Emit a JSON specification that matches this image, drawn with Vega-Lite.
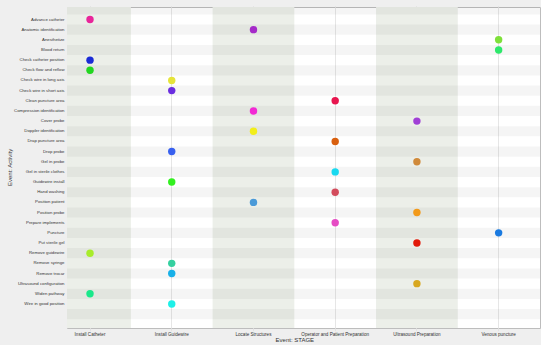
{
  "$schema": "https://vega.github.io/schema/vega-lite/v6.json",
  "autosize": "none",
  "width": 473,
  "height": 321,
  "padding": {"left": 67, "top": 7, "right": 1, "bottom": 17},
  "background": "#efefef",
  "config": {
    "font": "Liberation Sans",
    "view": {"stroke": "#bdbdbd", "strokeWidth": 1, "fill": "white"}
  },
  "datasets": {
    "points": [
      {"Activity": "Advance catheter", "Stage": "Install Catheter"},
      {"Activity": "Anatomic identification", "Stage": "Locate Structures"},
      {"Activity": "Anesthetize", "Stage": "Venous puncture"},
      {"Activity": "Blood return", "Stage": "Venous puncture"},
      {"Activity": "Check catheter position", "Stage": "Install Catheter"},
      {"Activity": "Check flow and reflow", "Stage": "Install Catheter"},
      {"Activity": "Check wire in long axis", "Stage": "Install Guidewire"},
      {"Activity": "Check wire in short axis", "Stage": "Install Guidewire"},
      {"Activity": "Clean puncture area", "Stage": "Operator and Patient Preparation"},
      {"Activity": "Compression identification", "Stage": "Locate Structures"},
      {"Activity": "Cover probe", "Stage": "Ultrasound Preparation"},
      {"Activity": "Doppler identification", "Stage": "Locate Structures"},
      {"Activity": "Drap puncture area", "Stage": "Operator and Patient Preparation"},
      {"Activity": "Drop probe", "Stage": "Install Guidewire"},
      {"Activity": "Gel in probe", "Stage": "Ultrasound Preparation"},
      {"Activity": "Gel in sterile clothes", "Stage": "Operator and Patient Preparation"},
      {"Activity": "Guidewire install", "Stage": "Install Guidewire"},
      {"Activity": "Hand washing", "Stage": "Operator and Patient Preparation"},
      {"Activity": "Position patient", "Stage": "Locate Structures"},
      {"Activity": "Position probe", "Stage": "Ultrasound Preparation"},
      {"Activity": "Prepare implements", "Stage": "Operator and Patient Preparation"},
      {"Activity": "Puncture", "Stage": "Venous puncture"},
      {"Activity": "Put sterile gel", "Stage": "Ultrasound Preparation"},
      {"Activity": "Remove guidewire", "Stage": "Install Catheter"},
      {"Activity": "Remove syringe", "Stage": "Install Guidewire"},
      {"Activity": "Remove trocar", "Stage": "Install Guidewire"},
      {"Activity": "Ultrasound configuration", "Stage": "Ultrasound Preparation"},
      {"Activity": "Widen pathway", "Stage": "Install Catheter"},
      {"Activity": "Wire in good position", "Stage": "Install Guidewire"}
    ],
    "columns": [
      {"Stage": "Install Catheter", "Shade": 1},
      {"Stage": "Install Guidewire", "Shade": 0},
      {"Stage": "Locate Structures", "Shade": 1},
      {"Stage": "Operator and Patient Preparation", "Shade": 0},
      {"Stage": "Ultrasound Preparation", "Shade": 1},
      {"Stage": "Venous puncture", "Shade": 0}
    ],
    "rows": [
      {"Activity": "_pad0", "Shade": 1},
      {"Activity": "Advance catheter", "Shade": 0},
      {"Activity": "Anatomic identification", "Shade": 1},
      {"Activity": "Anesthetize", "Shade": 0},
      {"Activity": "Blood return", "Shade": 1},
      {"Activity": "Check catheter position", "Shade": 0},
      {"Activity": "Check flow and reflow", "Shade": 1},
      {"Activity": "Check wire in long axis", "Shade": 0},
      {"Activity": "Check wire in short axis", "Shade": 1},
      {"Activity": "Clean puncture area", "Shade": 0},
      {"Activity": "Compression identification", "Shade": 1},
      {"Activity": "Cover probe", "Shade": 0},
      {"Activity": "Doppler identification", "Shade": 1},
      {"Activity": "Drap puncture area", "Shade": 0},
      {"Activity": "Drop probe", "Shade": 1},
      {"Activity": "Gel in probe", "Shade": 0},
      {"Activity": "Gel in sterile clothes", "Shade": 1},
      {"Activity": "Guidewire install", "Shade": 0},
      {"Activity": "Hand washing", "Shade": 1},
      {"Activity": "Position patient", "Shade": 0},
      {"Activity": "Position probe", "Shade": 1},
      {"Activity": "Prepare implements", "Shade": 0},
      {"Activity": "Puncture", "Shade": 1},
      {"Activity": "Put sterile gel", "Shade": 0},
      {"Activity": "Remove guidewire", "Shade": 1},
      {"Activity": "Remove syringe", "Shade": 0},
      {"Activity": "Remove trocar", "Shade": 1},
      {"Activity": "Ultrasound configuration", "Shade": 0},
      {"Activity": "Widen pathway", "Shade": 1},
      {"Activity": "Wire in good position", "Shade": 0},
      {"Activity": "_pad1", "Shade": 1},
      {"Activity": "_pad2", "Shade": 0}
    ]
  },
  "encoding": {
    "x": {
      "field": "Stage",
      "type": "nominal",
      "scale": {
        "type": "band",
        "domain": ["Install Catheter", "Install Guidewire", "Locate Structures", "Operator and Patient Preparation", "Ultrasound Preparation", "Venous puncture"],
        "range": [-17.85, 472.5],
        "paddingInner": 0,
        "paddingOuter": 0
      },
      "axis": {
        "title": "Event: STAGE",
        "labelAngle": 0,
        "labelFontSize": 4.6,
        "labelColor": "#333333",
        "labelPadding": 3,
        "ticks": false,
        "domain": false,
        "grid": true,
        "gridColor": "#e0e0e0",
        "gridWidth": 0.8,
        "bandPosition": 0.5,
        "zindex": 0,
        "titleFontSize": 6,
        "titleFontWeight": "normal",
        "titleColor": "#333333",
        "titlePadding": 1
      }
    },
    "y": {
      "field": "Activity",
      "type": "nominal",
      "scale": {
        "type": "band",
        "domain": ["_pad0", "Advance catheter", "Anatomic identification", "Anesthetize", "Blood return", "Check catheter position", "Check flow and reflow", "Check wire in long axis", "Check wire in short axis", "Clean puncture area", "Compression identification", "Cover probe", "Doppler identification", "Drap puncture area", "Drop probe", "Gel in probe", "Gel in sterile clothes", "Guidewire install", "Hand washing", "Position patient", "Position probe", "Prepare implements", "Puncture", "Put sterile gel", "Remove guidewire", "Remove syringe", "Remove trocar", "Ultrasound configuration", "Widen pathway", "Wire in good position", "_pad1", "_pad2"],
        "range": [-2.74, 322.38],
        "paddingInner": 0,
        "paddingOuter": 0
      },
      "axis": {
        "title": "Event: Activity",
        "labelFontSize": 4.3,
        "labelColor": "#333333",
        "labelPadding": 3,
        "labelExpr": "indexof(datum.label, '_pad') == 0 ? '' : datum.label",
        "ticks": false,
        "domain": false,
        "grid": false,
        "zindex": 0,
        "titleFontSize": 6,
        "titleFontWeight": "normal",
        "titleColor": "#333333",
        "titleX": -55
      }
    }
  },
  "layer": [
    {
      "data": {"name": "columns"},
      "transform": [{"filter": "datum.Shade == 1"}],
      "mark": {"type": "rect", "clip": true, "color": "#ecefe9"},
      "encoding": {"y": null}
    },
    {
      "data": {"name": "rows"},
      "transform": [{"filter": "datum.Shade == 1"}],
      "mark": {"type": "rect", "clip": true, "color": "#000000", "opacity": 0.04},
      "encoding": {"x": null}
    },
    {
      "data": {"name": "points"},
      "mark": {"type": "circle", "size": 55, "opacity": 1},
      "encoding": {
        "color": {
          "field": "Activity",
          "type": "nominal",
          "legend": null,
          "scale": {
            "domain": ["Advance catheter", "Anatomic identification", "Anesthetize", "Blood return", "Check catheter position", "Check flow and reflow", "Check wire in long axis", "Check wire in short axis", "Clean puncture area", "Compression identification", "Cover probe", "Doppler identification", "Drap puncture area", "Drop probe", "Gel in probe", "Gel in sterile clothes", "Guidewire install", "Hand washing", "Position patient", "Position probe", "Prepare implements", "Puncture", "Put sterile gel", "Remove guidewire", "Remove syringe", "Remove trocar", "Ultrasound configuration", "Widen pathway", "Wire in good position"],
            "range": ["#e8259a", "#a52bc9", "#7ee03a", "#2ee86b", "#1a2bd6", "#22d620", "#e6e43a", "#6a2de0", "#e8164f", "#f22ad4", "#a040d6", "#f2ee1a", "#d9600f", "#3860ef", "#d08a3a", "#19d9f0", "#33f020", "#d34c5c", "#4a9ad8", "#f29a1a", "#e64cc4", "#1a7ae0", "#e21a0a", "#a8ec2a", "#35d0a0", "#18b0e8", "#d8a820", "#1ae88a", "#1ef0e8"]
          }
        }
      }
    }
  ]
}
